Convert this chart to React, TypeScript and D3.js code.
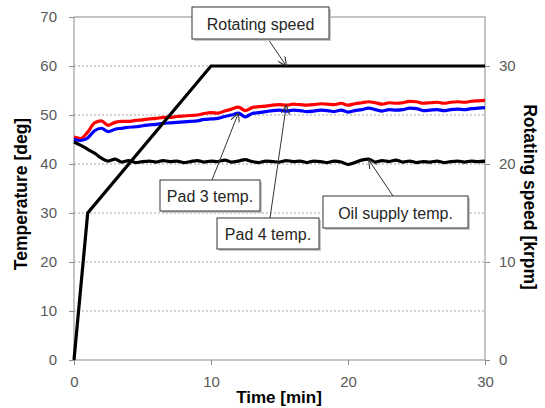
import * as d3 from 'd3'
import {useEffect, useRef} from 'react'

// time axis for the temperature traces [min]
const time = d3.range(0, 30.01, 0.5)

const pad3Temp = [45.5, 45.2, 46.5, 48.4, 48.8, 47.9, 48.5, 48.7, 48.7, 48.9, 49.0, 49.2, 49.3, 49.5, 49.5, 49.7, 49.8, 49.9, 50.0, 50.3, 50.5,
    50.4, 50.8, 51.2, 51.6, 50.9, 51.5, 51.7, 51.8, 52.0, 52.1, 52.0, 52.2, 52.1, 52.0, 52.1, 52.3, 52.2, 52.1, 52.4, 52.0,
    52.3, 52.5, 52.7, 52.5, 52.2, 52.5, 52.4, 52.5, 52.8, 52.7, 52.4, 52.5, 52.6, 52.4, 52.6, 52.7, 52.6, 52.8, 52.9, 53.0]

const pad4Temp = [45.0, 44.8, 45.3, 46.8, 47.3, 46.6, 47.1, 47.3, 47.5, 47.6, 47.8, 48.0, 48.1, 48.3, 48.4, 48.5, 48.6, 48.7, 48.8, 49.1, 49.2,
    49.3, 49.7, 50.0, 50.4, 49.6, 50.3, 50.5, 50.7, 50.9, 51.0, 50.8, 51.0, 50.9, 50.7, 50.8, 51.0, 50.9, 50.7, 51.0, 50.6,
    50.9, 51.1, 51.4, 51.1, 50.8, 51.1, 51.0, 51.1, 51.4, 51.3, 50.9, 51.0, 51.1, 50.9, 51.1, 51.2, 51.1, 51.3, 51.4, 51.5]

const oilTemp = [44.5, 43.8, 43.0, 42.2, 41.2, 40.6, 41.0, 40.4, 40.7, 40.3, 40.5, 40.6, 40.4, 40.7, 40.5, 40.6, 40.3, 40.5, 40.7, 40.4, 40.6,
    40.5, 40.8, 40.4, 40.6, 40.9, 40.5, 40.3, 40.6, 40.5, 40.4, 40.7, 40.5, 40.6, 40.3, 40.6, 40.5, 40.3, 40.6, 40.4, 39.9,
    40.3, 40.8, 41.0, 40.4, 40.7, 40.5, 40.8, 40.4, 40.6, 40.3, 40.5, 40.4, 40.6, 40.3, 40.5, 40.6, 40.4, 40.6, 40.5, 40.6]

const speedTime = [0, 1, 10, 30]
const speed = [0, 15, 30, 30]

const xTicks = [0, 10, 20, 30]
const tempTicks = [0, 10, 20, 30, 40, 50, 60, 70]
const speedTicks = [0, 10, 20, 30]

// callouts: box in pixels, arrow tip in data units
const notes = [
    {text: 'Rotating speed', x: 192, y: 7, w: 137, h: 32, from: [268, 39], t: 15.5, v: 30, axis: 'speed'},
    {text: 'Pad 3 temp.', x: 160, y: 180, w: 100, h: 31, from: [212, 180], t: 12, v: 50.4, axis: 'temp'},
    {text: 'Pad 4 temp.', x: 217, y: 218, w: 102, h: 31, from: [270, 218], t: 15.5, v: 52.0, axis: 'temp'},
    {text: 'Oil supply temp.', x: 323, y: 196, w: 145, h: 32, from: [393, 196], t: 21.5, v: 40.9, axis: 'temp'},
]

const FONT = '"Liberation Sans", Arial, sans-serif'

export default function App(){
    const svgRef = useRef(null)
    const width = 545, height = 408
    const left = 74, right = 485, top = 17, bottom = 360

    useEffect(() => {
        const svg = d3.select(svgRef.current)
        svg.selectAll('*').remove()

        const xScale = d3.scaleLinear().domain([0, 30]).range([left, right])
        const yScale = d3.scaleLinear().domain([0, 70]).range([bottom, top])
        const y2Scale = d3.scaleLinear().domain([0, 35]).range([bottom, top])

        const defs = svg.append('defs')
        defs.append('marker')
            .attr('id', 'arr')
            .attr('viewBox', '0 0 10 10')
            .attr('refX', 10).attr('refY', 5)
            .attr('markerWidth', 9).attr('markerHeight', 9)
            .attr('markerUnits', 'userSpaceOnUse')
            .attr('orient', 'auto')
            .append('path')
                .attr('d', 'M0,0 L10,5 L0,10')
                .attr('fill', 'none')
                .attr('stroke', '#333')
                .attr('stroke-width', 1.2)

        // gridlines
        svg.append('g').selectAll('line')
            .data(tempTicks.filter(d => d > 0 && d < 70))
            .join('line')
                .attr('x1', left).attr('x2', right)
                .attr('y1', d => yScale(d)).attr('y2', d => yScale(d))
                .attr('stroke', '#a6a6a6')
                .attr('stroke-dasharray', '2,2')
                .attr('stroke-width', 1)

        // plot frame
        svg.append('rect')
            .attr('x', left).attr('y', top)
            .attr('width', right - left).attr('height', bottom - top)
            .attr('fill', 'none')
            .attr('stroke', '#8c8c8c')
            .attr('stroke-width', 1)

        const xAxis = d3.axisBottom(xScale).tickValues(xTicks).tickSize(5).tickPadding(11)
        const yAxis = d3.axisLeft(yScale).tickValues(tempTicks).tickSize(5).tickPadding(12)
        const y2Axis = d3.axisRight(y2Scale).tickValues(speedTicks).tickSize(5).tickPadding(9)

        const styleAxis = g => {
            g.select('.domain').remove()
            g.selectAll('.tick line').attr('stroke', '#8c8c8c')
            g.selectAll('.tick text')
                .attr('fill', '#595959')
                .style('font', `15px ${FONT}`)
        }

        svg.append('g').attr('transform', `translate(0,${bottom})`).call(xAxis).call(styleAxis)
        svg.append('g').attr('transform', `translate(${left},0)`).call(yAxis).call(styleAxis)
        svg.append('g').attr('transform', `translate(${right},0)`).call(y2Axis).call(styleAxis)

        const line = d3.line().x((d, i) => xScale(time[i])).y(d => yScale(d)).curve(d3.curveMonotoneX)

        svg.append('path').datum(pad3Temp)
            .attr('d', line).attr('fill', 'none').attr('stroke', '#ff0000').attr('stroke-width', 3.2)
        svg.append('path').datum(pad4Temp)
            .attr('d', line).attr('fill', 'none').attr('stroke', '#0000ff').attr('stroke-width', 3.2)
        svg.append('path').datum(oilTemp)
            .attr('d', line).attr('fill', 'none').attr('stroke', '#000').attr('stroke-width', 3.2)

        const speedLine = d3.line().x((d, i) => xScale(speedTime[i])).y(d => y2Scale(d))
        svg.append('path').datum(speed)
            .attr('d', speedLine).attr('fill', 'none').attr('stroke', '#000').attr('stroke-width', 3.2)

        // callouts
        const g = svg.append('g')
        notes.forEach(n => {
            const tx = xScale(n.t)
            const ty = n.axis === 'speed' ? y2Scale(n.v) : yScale(n.v)
            g.append('line')
                .attr('x1', n.from[0]).attr('y1', n.from[1])
                .attr('x2', tx).attr('y2', ty)
                .attr('stroke', '#333').attr('stroke-width', 1)
                .attr('marker-end', 'url(#arr)')
            g.append('rect')
                .attr('x', n.x + 2).attr('y', n.y + 2)
                .attr('width', n.w).attr('height', n.h)
                .attr('fill', '#c8c8c8')
            g.append('rect')
                .attr('x', n.x).attr('y', n.y)
                .attr('width', n.w).attr('height', n.h)
                .attr('fill', '#fff').attr('stroke', '#333').attr('stroke-width', 1)
            g.append('text')
                .attr('x', n.x + n.w / 2).attr('y', n.y + n.h / 2 + 6.5)
                .attr('text-anchor', 'middle')
                .attr('fill', '#262626')
                .style('font', `16px ${FONT}`)
                .text(n.text)
        })

        // axis titles
        svg.append('text')
            .attr('x', 279).attr('y', 403)
            .attr('text-anchor', 'middle')
            .style('font', `bold 17px ${FONT}`)
            .text('Time [min]')
        svg.append('text')
            .attr('transform', `translate(27,194) rotate(-90)`)
            .attr('text-anchor', 'middle')
            .style('font', `bold 17.5px ${FONT}`)
            .text('Temperature [deg]')
        svg.append('text')
            .attr('transform', `translate(524,197) rotate(90)`)
            .attr('text-anchor', 'middle')
            .style('font', `bold 17.5px ${FONT}`)
            .text('Rotating speed [krpm]')
    }, [])

    return (
        <svg ref={svgRef} width={width} height={height}
            style={{position: 'absolute', left: 0, top: 0, background: '#fff'}}/>
    )
}
